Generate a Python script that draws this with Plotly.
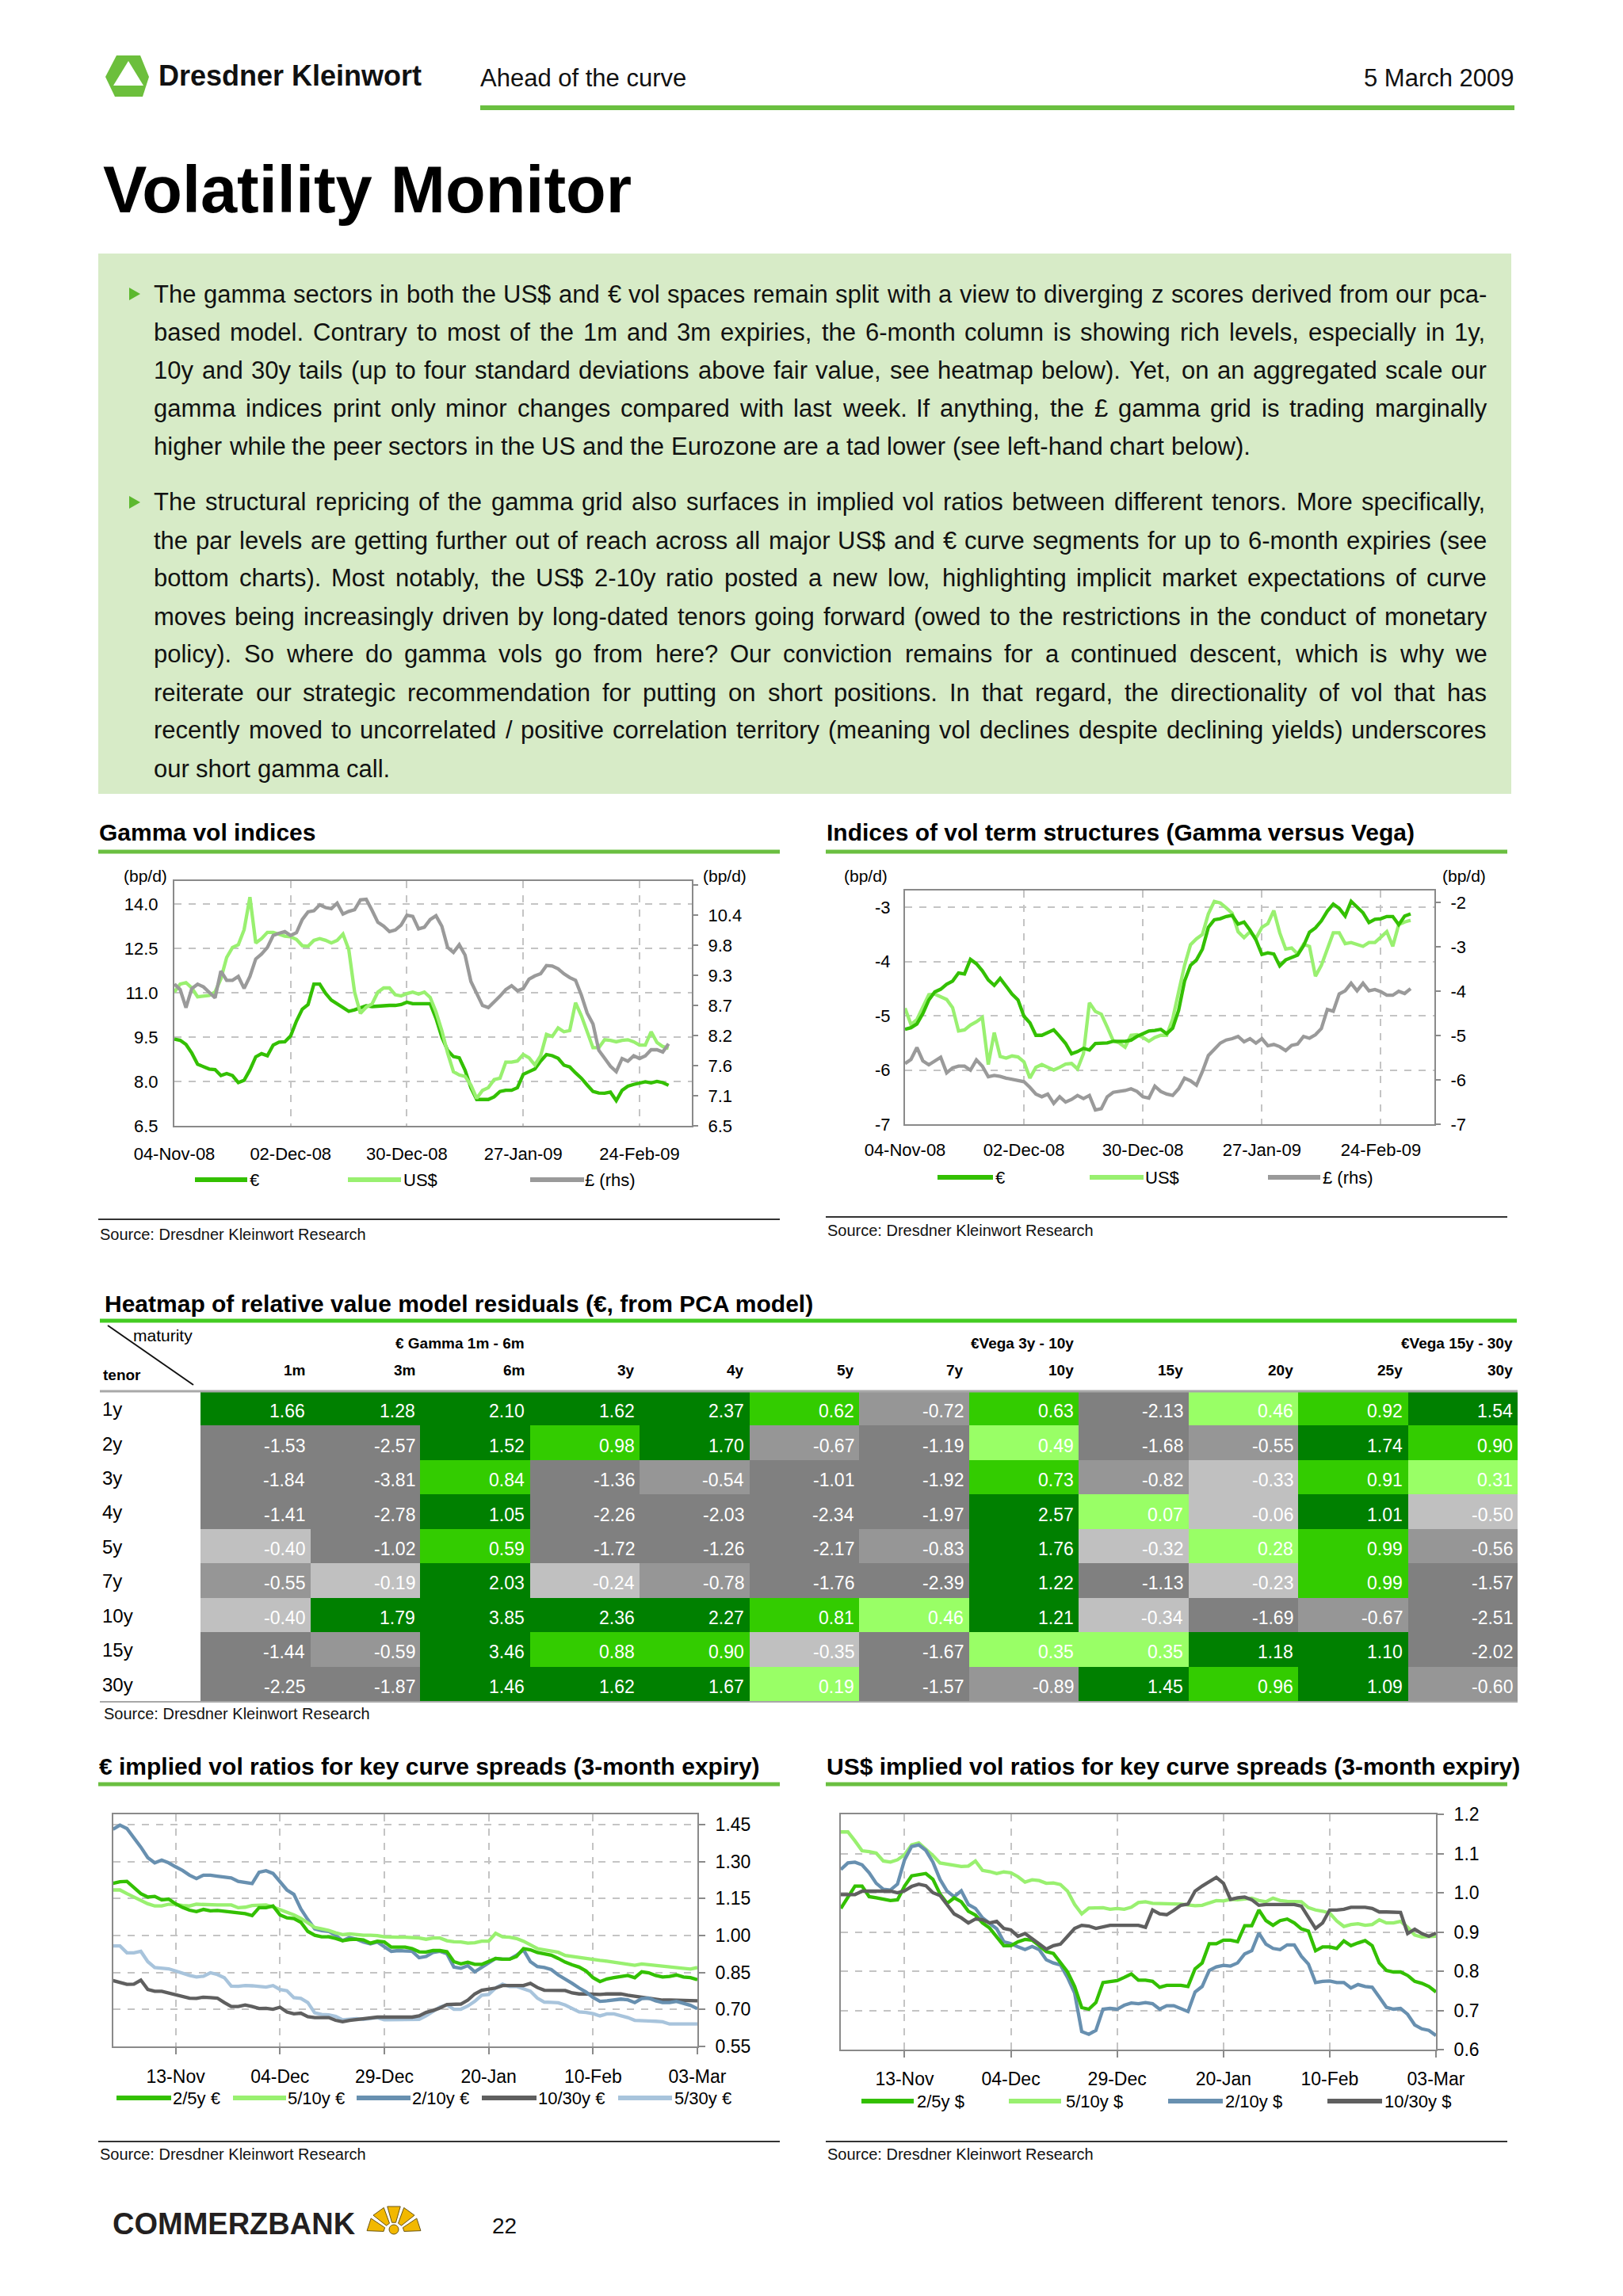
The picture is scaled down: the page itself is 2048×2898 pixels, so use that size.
import math
import pandas as pd
import plotly.graph_objects as go

W, H = 2048, 2898
FONT = "Liberation Sans, Arial, Helvetica, sans-serif"


def X(p):
    return p / W


def Y(p):
    return 1 - p / H


# ------------------------------------------------------------------ data
top_dates = pd.bdate_range("2008-11-04", "2009-03-03")

eur_gamma = [9.43, 9.39, 9.25, 8.96, 8.58, 8.51, 8.42, 8.40, 8.20, 8.27,
             8.20, 7.96, 8.04, 8.39, 8.83, 8.94, 8.87, 9.23, 9.33, 9.34,
             9.54, 10.04, 10.44, 10.60, 11.29, 11.29, 10.98, 10.75, 10.62, 10.48,
             10.37, 10.42, 10.48, 10.56, 10.53, 10.55, 10.57, 10.57, 10.57, 10.60,
             10.68, 10.63, 10.63, 10.63, 10.63, 10.13, 9.50, 9.05, 8.84, 8.80,
             8.38, 7.79, 7.39, 7.39, 7.39, 7.48, 7.66, 7.70, 7.70, 7.79,
             8.24, 8.33, 8.42, 8.69, 8.91, 8.87, 8.78, 8.55, 8.49, 8.29,
             8.11, 7.88, 7.66, 7.61, 7.60, 7.64, 7.35, 7.70, 7.84, 7.90,
             7.95, 7.99, 7.95, 8.00, 7.96, 7.87]
usd_gamma = [11.02, 11.29, 11.34, 11.16, 10.86, 10.89, 10.91, 11.02, 11.47, 12.19,
             12.53, 12.62, 13.13, 14.23, 12.68, 12.83, 13.04, 13.04, 12.98, 12.91,
             12.89, 12.80, 12.59, 12.57, 12.77, 12.83, 12.77, 12.68, 12.77, 12.98,
             12.46, 11.02, 10.30, 10.51, 10.62, 11.02, 11.16, 11.16, 10.93, 10.89,
             10.97, 11.02, 10.95, 11.02, 10.84, 10.35, 9.72, 8.96, 8.33, 8.22,
             8.17, 7.88, 7.43, 7.70, 7.79, 8.06, 8.11, 8.65, 8.65, 8.69,
             8.91, 8.80, 8.56, 8.87, 9.59, 9.52, 9.81, 9.68, 9.72, 10.66,
             10.22, 9.68, 9.14, 9.14, 9.41, 9.39, 9.34, 9.39, 9.41, 9.34,
             9.23, 9.23, 9.68, 9.32, 9.18, 9.12]
gbp_gamma = [9.09, 8.99, 8.66, 9.01, 9.09, 9.04, 8.94, 8.84, 9.33, 9.16,
             9.16, 9.23, 9.01, 9.23, 9.55, 9.64, 9.76, 9.98, 10.02, 10.05,
             9.98, 10.03, 10.27, 10.41, 10.43, 10.54, 10.49, 10.47, 10.57, 10.37,
             10.42, 10.45, 10.63, 10.64, 10.44, 10.22, 10.15, 10.05, 10.08, 10.17,
             10.35, 10.33, 10.10, 10.13, 10.27, 10.34, 10.15, 9.76, 9.67, 9.81,
             9.62, 9.14, 8.92, 8.70, 8.66, 8.76, 8.87, 8.99, 9.06, 8.97,
             9.01, 9.18, 9.24, 9.28, 9.43, 9.42, 9.37, 9.28, 9.21, 9.16,
             8.89, 8.56, 8.36, 7.88, 7.73, 7.59, 7.49, 7.73, 7.68, 7.78,
             7.73, 7.78, 7.89, 7.89, 7.85, 8.00]

eur_ts = [-5.25, -5.22, -5.15, -4.96, -4.71, -4.56, -4.51, -4.42, -4.36, -4.21,
          -4.23, -3.96, -4.04, -4.17, -4.34, -4.44, -4.31, -4.46, -4.60, -4.71,
          -5.01, -5.13, -5.36, -5.36, -5.31, -5.26, -5.38, -5.51, -5.70, -5.66,
          -5.60, -5.63, -5.51, -5.51, -5.50, -5.47, -5.47, -5.47, -5.45, -5.38,
          -5.33, -5.28, -5.27, -5.25, -5.33, -5.23, -4.90, -4.36, -4.07, -3.97,
          -3.77, -3.37, -3.23, -3.21, -3.17, -3.15, -3.31, -3.27, -3.42, -3.60,
          -3.87, -3.84, -3.86, -4.08, -3.97, -3.92, -3.88, -3.71, -3.46, -3.38,
          -3.25, -3.07, -2.94, -3.02, -3.16, -2.89, -2.99, -3.10, -3.28, -3.22,
          -3.21, -3.17, -3.17, -3.32, -3.16, -3.12]
usd_ts = [-4.86, -5.16, -5.07, -4.84, -4.61, -4.60, -4.65, -4.70, -4.85, -5.28,
          -5.26, -5.17, -5.11, -5.03, -5.90, -5.31, -5.75, -5.78, -5.74, -5.76,
          -5.85, -6.15, -5.95, -5.90, -5.95, -6.00, -5.95, -5.89, -5.88, -5.98,
          -5.70, -4.76, -4.92, -4.97, -5.21, -5.46, -5.50, -5.58, -5.36, -5.35,
          -5.40, -5.47, -5.40, -5.36, -5.36, -5.06, -4.56, -4.07, -3.69, -3.58,
          -3.50, -3.12, -2.89, -2.92, -3.01, -3.11, -3.45, -3.56, -3.45, -3.57,
          -3.37, -3.30, -3.06, -3.47, -3.77, -3.75, -3.86, -3.68, -3.72, -4.27,
          -4.07, -3.77, -3.47, -3.47, -3.67, -3.65, -3.68, -3.72, -3.65, -3.65,
          -3.55, -3.45, -3.72, -3.32, -3.27, -3.24]
gbp_ts = [-5.63, -5.54, -5.27, -5.57, -5.66, -5.57, -5.49, -5.84, -5.73, -5.69,
          -5.69, -5.78, -5.55, -5.69, -5.93, -5.90, -5.92, -5.96, -5.99, -6.01,
          -6.04, -6.17, -6.32, -6.38, -6.32, -6.53, -6.38, -6.50, -6.44, -6.35,
          -6.42, -6.35, -6.68, -6.65, -6.38, -6.28, -6.26, -6.24, -6.20, -6.26,
          -6.38, -6.41, -6.14, -6.26, -6.32, -6.35, -6.20, -5.96, -6.02, -6.12,
          -5.81, -5.45, -5.31, -5.17, -5.10, -5.07, -5.02, -5.14, -5.07, -5.17,
          -5.07, -5.23, -5.20, -5.25, -5.34, -5.22, -5.19, -5.02, -5.06, -4.98,
          -4.84, -4.41, -4.45, -4.06, -3.99, -3.82, -3.99, -3.82, -3.99, -3.96,
          -4.01, -4.09, -4.09, -4.00, -4.05, -3.94]

holidays = ["2008-12-25", "2008-12-26", "2009-01-01"]
bot_dates = [d for d in pd.bdate_range("2008-10-31", "2009-03-03")
             if d.strftime("%Y-%m-%d") not in holidays]

eur_2_5 = [1.212, 1.218, 1.220, 1.193, 1.170, 1.156, 1.159, 1.145, 1.148, 1.129,
           1.114, 1.103, 1.097, 1.106, 1.100, 1.102, 1.097, 1.095, 1.092, 1.089,
           1.081, 1.113, 1.113, 1.120, 1.084, 1.072, 1.069, 1.054, 1.017, 1.001,
           0.995, 0.995, 0.988, 0.979, 0.984, 0.985, 0.982, 0.969, 0.977, 0.974,
           0.953, 0.953, 0.953, 0.947, 0.934, 0.933, 0.939, 0.939, 0.934, 0.894,
           0.885, 0.892, 0.883, 0.883, 0.894, 0.907, 0.904, 0.904, 0.915, 0.947,
           0.942, 0.931, 0.926, 0.920, 0.907, 0.892, 0.881, 0.872, 0.856, 0.829,
           0.813, 0.824, 0.829, 0.832, 0.838, 0.829, 0.853, 0.849, 0.838, 0.832,
           0.834, 0.840, 0.832, 0.829, 0.821]
eur_5_10 = [1.185, 1.185, 1.170, 1.156, 1.144, 1.129, 1.120, 1.120, 1.127, 1.127,
            1.122, 1.120, 1.127, 1.125, 1.124, 1.124, 1.124, 1.124, 1.113, 1.115,
            1.122, 1.124, 1.124, 1.116, 1.106, 1.095, 1.084, 1.070, 1.051, 1.033,
            1.027, 1.021, 1.011, 1.004, 1.007, 1.003, 1.001, 1.001, 1.000, 0.995,
            0.993, 0.993, 0.993, 0.993, 0.990, 0.985, 0.990, 0.990, 0.979, 0.975,
            0.974, 0.969, 0.971, 0.977, 0.977, 1.009, 0.995, 0.993, 0.988, 0.977,
            0.961, 0.947, 0.942, 0.937, 0.932, 0.919, 0.915, 0.910, 0.904, 0.901,
            0.899, 0.896, 0.892, 0.886, 0.882, 0.879, 0.885, 0.882, 0.879, 0.877,
            0.874, 0.872, 0.867, 0.864, 0.870]
eur_2_10 = [1.431, 1.448, 1.434, 1.397, 1.359, 1.316, 1.295, 1.306, 1.295, 1.279,
            1.264, 1.245, 1.231, 1.245, 1.245, 1.241, 1.236, 1.234, 1.220, 1.217,
            1.211, 1.257, 1.263, 1.252, 1.220, 1.185, 1.167, 1.108, 1.065, 1.027,
            1.020, 1.017, 1.001, 0.979, 0.992, 0.985, 0.974, 0.966, 0.974, 0.953,
            0.936, 0.939, 0.939, 0.936, 0.910, 0.915, 0.931, 0.936, 0.926, 0.872,
            0.867, 0.878, 0.853, 0.870, 0.888, 0.907, 0.904, 0.904, 0.920, 0.942,
            0.894, 0.874, 0.870, 0.862, 0.840, 0.824, 0.806, 0.787, 0.771, 0.749,
            0.733, 0.735, 0.739, 0.742, 0.739, 0.728, 0.744, 0.746, 0.735, 0.728,
            0.728, 0.733, 0.725, 0.717, 0.703]
eur_10_30 = [0.817, 0.810, 0.802, 0.803, 0.819, 0.781, 0.774, 0.774, 0.767, 0.760,
             0.750, 0.746, 0.745, 0.750, 0.748, 0.746, 0.728, 0.712, 0.712, 0.718,
             0.712, 0.704, 0.705, 0.701, 0.709, 0.690, 0.682, 0.685, 0.671, 0.667,
             0.667, 0.667, 0.656, 0.650, 0.656, 0.660, 0.662, 0.668, 0.669, 0.669,
             0.669, 0.669, 0.669, 0.669, 0.674, 0.688, 0.696, 0.706, 0.720, 0.722,
             0.722, 0.738, 0.763, 0.778, 0.783, 0.787, 0.797, 0.797, 0.797, 0.797,
             0.806, 0.789, 0.778, 0.778, 0.778, 0.777, 0.767, 0.763, 0.763, 0.761,
             0.761, 0.763, 0.763, 0.763, 0.758, 0.754, 0.750, 0.746, 0.740, 0.738,
             0.738, 0.738, 0.738, 0.737, 0.735]
eur_5_30 = [0.958, 0.958, 0.930, 0.930, 0.936, 0.894, 0.870, 0.869, 0.865, 0.856,
            0.846, 0.838, 0.832, 0.835, 0.849, 0.842, 0.829, 0.795, 0.794, 0.797,
            0.796, 0.794, 0.791, 0.797, 0.781, 0.776, 0.748, 0.745, 0.728, 0.686,
            0.680, 0.678, 0.672, 0.658, 0.662, 0.663, 0.660, 0.665, 0.667, 0.658,
            0.658, 0.658, 0.658, 0.658, 0.660, 0.674, 0.690, 0.710, 0.718, 0.701,
            0.701, 0.714, 0.733, 0.758, 0.761, 0.787, 0.803, 0.793, 0.794, 0.785,
            0.774, 0.746, 0.730, 0.729, 0.727, 0.718, 0.703, 0.690, 0.688, 0.683,
            0.674, 0.682, 0.682, 0.676, 0.667, 0.656, 0.656, 0.653, 0.652, 0.650,
            0.641, 0.641, 0.641, 0.641, 0.641]

usd_2_5 = [0.960, 0.987, 1.017, 1.017, 0.990, 0.987, 0.983, 0.980, 0.982, 1.017,
           1.043, 1.047, 1.049, 1.034, 0.997, 0.973, 0.987, 0.977, 0.953, 0.943,
           0.923, 0.910, 0.889, 0.865, 0.865, 0.875, 0.881, 0.879, 0.865, 0.850,
           0.845, 0.821, 0.798, 0.761, 0.707, 0.703, 0.720, 0.771, 0.774, 0.776,
           0.784, 0.793, 0.777, 0.777, 0.774, 0.759, 0.764, 0.764, 0.764, 0.761,
           0.806, 0.821, 0.870, 0.870, 0.879, 0.879, 0.875, 0.916, 0.916, 0.956,
           0.929, 0.917, 0.929, 0.933, 0.923, 0.908, 0.902, 0.852, 0.862, 0.862,
           0.858, 0.877, 0.865, 0.872, 0.878, 0.865, 0.821, 0.802, 0.798, 0.798,
           0.789, 0.774, 0.769, 0.761, 0.747]
usd_5_10 = [1.155, 1.155, 1.132, 1.107, 1.105, 1.101, 1.081, 1.078, 1.084, 1.097,
            1.122, 1.127, 1.111, 1.095, 1.076, 1.074, 1.070, 1.067, 1.068, 1.081,
            1.057, 1.054, 1.049, 1.053, 1.051, 1.041, 1.027, 1.033, 1.031, 1.024,
            1.025, 1.021, 1.004, 0.970, 0.946, 0.961, 0.962, 0.962, 0.958, 0.960,
            0.958, 0.963, 0.975, 0.977, 0.973, 0.973, 0.972, 0.971, 0.971, 0.969,
            0.967, 0.968, 0.975, 0.980, 0.979, 0.983, 0.982, 0.983, 0.986, 0.980,
            0.977, 0.986, 0.980, 0.978, 0.978, 0.977, 0.962, 0.956, 0.953, 0.948,
            0.928, 0.914, 0.919, 0.921, 0.917, 0.919, 0.931, 0.923, 0.923, 0.927,
            0.912, 0.892, 0.887, 0.887, 0.889]
usd_2_10 = [1.059, 1.076, 1.078, 1.071, 1.051, 1.024, 1.009, 1.007, 1.022, 1.084,
            1.118, 1.122, 1.108, 1.078, 1.034, 1.004, 0.990, 1.005, 0.970, 0.960,
            0.936, 0.921, 0.908, 0.875, 0.870, 0.862, 0.855, 0.863, 0.855, 0.829,
            0.821, 0.816, 0.784, 0.744, 0.646, 0.639, 0.649, 0.703, 0.705, 0.703,
            0.713, 0.719, 0.717, 0.720, 0.717, 0.703, 0.712, 0.712, 0.705, 0.697,
            0.747, 0.761, 0.802, 0.811, 0.815, 0.813, 0.821, 0.844, 0.852, 0.897,
            0.869, 0.858, 0.855, 0.867, 0.867, 0.838, 0.818, 0.771, 0.774, 0.775,
            0.771, 0.771, 0.757, 0.766, 0.761, 0.759, 0.734, 0.708, 0.703, 0.705,
            0.690, 0.663, 0.653, 0.649, 0.636]
usd_10_30 = [0.995, 0.995, 0.995, 1.004, 1.004, 1.002, 1.004, 1.004, 1.000, 1.005,
             1.016, 1.022, 1.018, 1.000, 0.993, 0.971, 0.946, 0.936, 0.923, 0.933,
             0.931, 0.923, 0.927, 0.909, 0.905, 0.889, 0.896, 0.883, 0.870, 0.856,
             0.865, 0.869, 0.889, 0.909, 0.917, 0.915, 0.909, 0.912, 0.917, 0.917,
             0.917, 0.917, 0.917, 0.912, 0.956, 0.946, 0.944, 0.955, 0.968, 0.971,
             1.004, 1.017, 1.029, 1.039, 1.024, 0.983, 0.987, 0.989, 0.982, 0.968,
             0.970, 0.970, 0.970, 0.970, 0.970, 0.966, 0.936, 0.909, 0.923, 0.956,
             0.956, 0.958, 0.963, 0.963, 0.963, 0.960, 0.951, 0.951, 0.951, 0.950,
             0.896, 0.907, 0.896, 0.889, 0.897]

tenors = ["1y", "2y", "3y", "4y", "5y", "7y", "10y", "15y", "30y"]
maturities = ["1m", "3m", "6m", "3y", "4y", "5y", "7y", "10y", "15y", "20y", "25y", "30y"]
group_labels = ["€ Gamma 1m - 6m", "€Vega 3y - 10y", "€Vega 15y - 30y"]
res_1y = [1.66, 1.28, 2.10, 1.62, 2.37, 0.62, -0.72, 0.63, -2.13, 0.46, 0.92, 1.54]
res_2y = [-1.53, -2.57, 1.52, 0.98, 1.70, -0.67, -1.19, 0.49, -1.68, -0.55, 1.74, 0.90]
res_3y = [-1.84, -3.81, 0.84, -1.36, -0.54, -1.01, -1.92, 0.73, -0.82, -0.33, 0.91, 0.31]
res_4y = [-1.41, -2.78, 1.05, -2.26, -2.03, -2.34, -1.97, 2.57, 0.07, -0.06, 1.01, -0.50]
res_5y = [-0.40, -1.02, 0.59, -1.72, -1.26, -2.17, -0.83, 1.76, -0.32, 0.28, 0.99, -0.56]
res_7y = [-0.55, -0.19, 2.03, -0.24, -0.78, -1.76, -2.39, 1.22, -1.13, -0.23, 0.99, -1.57]
res_10y = [-0.40, 1.79, 3.85, 2.36, 2.27, 0.81, 0.46, 1.21, -0.34, -1.69, -0.67, -2.51]
res_15y = [-1.44, -0.59, 3.46, 0.88, 0.90, -0.35, -1.67, 0.35, 0.35, 1.18, 1.10, -2.02]
res_30y = [-2.25, -1.87, 1.46, 1.62, 1.67, 0.19, -1.57, -0.89, 1.45, 0.96, 1.09, -0.60]
residuals = [res_1y, res_2y, res_3y, res_4y, res_5y, res_7y, res_10y, res_15y, res_30y]

para1 = [
    "The gamma sectors in both the US$ and € vol spaces remain split with a view to diverging z scores derived from our pca-",
    "based model. Contrary to most of the 1m and 3m expiries, the 6-month column is showing rich levels, especially in 1y,",
    "10y and 30y tails (up to four standard deviations above fair value, see heatmap below). Yet, on an aggregated scale our",
    "gamma indices print only minor changes compared with last week. If anything, the £ gamma grid is trading marginally",
    "higher while the peer sectors in the US and the Eurozone are a tad lower (see left-hand chart below).",
]
para2 = [
    "The structural repricing of the gamma grid also surfaces in implied vol ratios between different tenors. More specifically,",
    "the par levels are getting further out of reach across all major US$ and € curve segments for up to 6-month expiries (see",
    "bottom charts). Most notably, the US$ 2-10y ratio posted a new low, highlighting implicit market expectations of curve",
    "moves being increasingly driven by long-dated tenors going forward (owed to the restrictions in the conduct of monetary",
    "policy). So where do gamma vols go from here? Our conviction remains for a continued descent, which is why we",
    "reiterate our strategic recommendation for putting on short positions. In that regard, the directionality of vol that has",
    "recently moved to uncorrelated / positive correlation territory (meaning vol declines despite declining yields) underscores",
    "our short gamma call.",
]

# ------------------------------------------------------------------ styles
GREEN_BAR = "#6abf40"
C_EUR = "#33c000"
C_USD = "#99f070"
C_GBP = "#9a9a9a"
C_BLUE = "#6890b0"
C_DGRAY = "#5f5f5f"
C_LBLUE = "#a8c4dc"
GRID = "#c4c4c4"
AXL = "#8a8a8a"

ann = []
shapes = []


def text(x, y, s, size=22, color="#000", bold=False, xanchor="left", yanchor="middle",
         xref="paper", yref="paper"):
    if bold:
        s = "<b>" + s + "</b>"
    ann.append(dict(x=X(x) if xref == "paper" else x, y=Y(y) if yref == "paper" else y,
                    xref=xref, yref=yref, text=s, showarrow=False,
                    xanchor=xanchor, yanchor=yanchor,
                    font=dict(size=size, color=color, family=FONT)))


def line(x0, y0, x1, y1, color, width):
    shapes.append(dict(type="line", xref="paper", yref="paper", x0=X(x0), y0=Y(y0),
                       x1=X(x1), y1=Y(y1), line=dict(color=color, width=width)))


def rect(x0, y0, x1, y1, fill):
    shapes.append(dict(type="rect", xref="paper", yref="paper", x0=X(x0), y0=Y(y0),
                       x1=X(x1), y1=Y(y1), fillcolor=fill, line=dict(width=0), layer="below"))


def poly(pts, fill, lc=None, lw=0):
    d = "M " + " L ".join(f"{X(a):.5f},{Y(b):.5f}" for a, b in pts) + " Z"
    shapes.append(dict(type="path", xref="paper", yref="paper", path=d, fillcolor=fill,
                       line=dict(color=lc or fill, width=lw)))


# Arial / Liberation Sans advance widths (1/1000 em)
CW = {' ': 278, '!': 278, '"': 355, '$': 556, '%': 889, '&': 667, "'": 191, '(': 333, ')': 333,
      ',': 278, '-': 333, '.': 278, '/': 278, ':': 278, ';': 278, '?': 556,
      'A': 667, 'B': 667, 'C': 722, 'D': 722, 'E': 667, 'F': 611, 'G': 778, 'H': 722, 'I': 278,
      'J': 500, 'K': 667, 'L': 556, 'M': 833, 'N': 722, 'O': 778, 'P': 667, 'Q': 778, 'R': 722,
      'S': 667, 'T': 611, 'U': 722, 'V': 667, 'W': 944, 'X': 667, 'Y': 667, 'Z': 611,
      'a': 556, 'b': 556, 'c': 500, 'd': 556, 'e': 556, 'f': 278, 'g': 556, 'h': 556, 'i': 222,
      'j': 222, 'k': 500, 'l': 222, 'm': 833, 'n': 556, 'o': 556, 'p': 556, 'q': 556, 'r': 333,
      's': 500, 't': 278, 'u': 556, 'v': 500, 'w': 722, 'x': 500, 'y': 500, 'z': 500,
      '€': 556, '£': 556}


def tw(s, fs):
    return sum(CW.get(c, 556) for c in s) * fs / 1000.0


def paragraph(lines, y0, lh=48, fs=31, x0=194, x1=1876):
    for i, ln in enumerate(lines):
        y = y0 + i * lh
        words = ln.split(" ")
        ws = [tw(w, fs) for w in words]
        if i == len(lines) - 1 or len(words) < 2:
            gap = tw(" ", fs)
        else:
            gap = max((x1 - x0 - sum(ws)) / (len(words) - 1), 0.15 * fs)
        x = x0
        for w, wd in zip(words, ws):
            text(x - 2, y, w, size=fs, color="#111")
            x += wd + gap


# ------------------------------------------------------------------ header
poly([(147, 70), (177, 70), (188, 97), (180, 122), (145, 122), (133, 97)], "#6cbf3c")
poly([(162, 77), (181, 108), (143, 108)], "#ffffff")
text(198, 96, "Dresdner Kleinwort", size=36, bold=True, color="#111")
text(604, 98, "Ahead of the curve", size=31, color="#111")
text(1913, 98, "5 March 2009", size=31, color="#111", xanchor="right")
rect(606, 133, 1911, 139, GREEN_BAR)
text(128, 240, "Volatility Monitor", size=83, bold=True, color="#000")

# text box
rect(124, 320, 1907, 1002, "#d7ebc7")
poly([(163, 363), (163, 379), (177, 371)], "#5cb82e")
poly([(163, 626), (163, 642), (177, 634)], "#5cb82e")
paragraph(para1, 371)
paragraph(para2, 634)


# ------------------------------------------------------------------ section furniture
def section(x0, x1, ty, title, uy, ry, sy):
    text(x0 - 1, ty, title, size=30, bold=True)
    line(x0, uy, x1, uy, GREEN_BAR, 5)
    if ry is not None:
        line(x0, ry, x1, ry, "#333", 2)
    text(x0, sy, "Source: Dresdner Kleinwort Research", size=20, color="#111")


section(124, 984, 1050, "Gamma vol indices", 1075, 1539, 1558)
section(1042, 1902, 1050, "Indices of vol term structures (Gamma versus Vega)", 1075, 1536, 1553)
section(124, 984, 2229, "€ implied vol ratios for key curve spreads (3-month expiry)", 2252, 2703, 2719)
section(1042, 1902, 2229, "US$ implied vol ratios for key curve spreads (3-month expiry)", 2252, 2703, 2719)


def legend(items, y):
    for x0, x1, lx, color, label in items:
        line(x0, y, x1, y, color, 6)
        text(lx, y, label, size=22)


legend([(246, 312, 313, C_EUR, "€"), (439, 506, 507, C_USD, "US$"),
        (669, 737, 736, C_GBP, "£ (rhs)")], 1489)
legend([(1183, 1253, 1254, C_EUR, "€"), (1375, 1443, 1443, C_USD, "US$"),
        (1600, 1666, 1667, C_GBP, "£ (rhs)")], 1486)
legend([(147, 216, 216, C_EUR, "2/5y €"), (294, 361, 361, C_USD, "5/10y €"),
        (450, 518, 518, C_BLUE, "2/10y €"), (608, 677, 677, C_DGRAY, "10/30y €"),
        (780, 848, 849, C_LBLUE, "5/30y €")], 2648)
legend([(1087, 1153, 1155, C_EUR, "2/5y $"), (1273, 1339, 1343, C_USD, "5/10y $"),
        (1474, 1543, 1544, C_BLUE, "2/10y $"), (1675, 1744, 1745, C_DGRAY, "10/30y $")], 2652)

text(183, 1106, "(bp/d)", size=21, xanchor="center")
text(914, 1106, "(bp/d)", size=21, xanchor="center")
text(1092, 1106, "(bp/d)", size=21, xanchor="center")
text(1847, 1106, "(bp/d)", size=21, xanchor="center")

# ------------------------------------------------------------------ heatmap furniture
text(130, 1645, "Heatmap of relative value model residuals (€, from PCA model)", size=30, bold=True)
line(126, 1667, 1914, 1667, "#44cc22", 5)
line(136, 1673, 244, 1748, "#111", 2)
text(166, 1686, "maturity", size=21)
text(128, 1735, "tenor", size=19, bold=True)
line(126, 1756, 1915, 1756, "#a8a8a8", 3)
line(126, 2148, 1915, 2148, "#a8a8a8", 2)
text(129, 2163, "Source: Dresdner Kleinwort Research", size=20, color="#111")

# footer
text(140, 2807, "COMMERZBANK", size=38, bold=True, color="#231f20")
cx, cy = 497, 2818
for a in [162, 126, 90, 54, 18]:
    pts = []
    for r, da in [(13, -11), (34, -14), (34, 14), (13, 11)]:
        ang = math.radians(a + da)
        pts.append((cx + r * math.cos(ang), cy - r * math.sin(ang)))
    poly(pts, "#f2b800", "#6a5514", 1)
shapes.append(dict(type="circle", xref="paper", yref="paper", x0=X(cx - 6), x1=X(cx + 6),
                   y0=Y(cy + 2), y1=Y(cy - 10), fillcolor="#f2b800",
                   line=dict(color="#6a5514", width=1)))
text(636, 2809, "22", size=28, xanchor="center", color="#111")

# ------------------------------------------------------------------ traces
fig = go.Figure()


def add_line(x, y, color, xa, ya, width=4.3):
    fig.add_trace(go.Scatter(x=list(x)[:len(y)], y=y, mode="lines", xaxis=xa, yaxis=ya,
                             line=dict(color=color, width=width), hoverinfo="skip",
                             showlegend=False))


add_line(top_dates, eur_gamma, C_EUR, "x", "y")
add_line(top_dates, usd_gamma, C_USD, "x", "y")
add_line(top_dates, gbp_gamma, C_GBP, "x", "y2")

add_line(top_dates, gbp_ts, C_GBP, "x2", "y4")
add_line(top_dates, usd_ts, C_USD, "x2", "y3")
add_line(top_dates, eur_ts, C_EUR, "x2", "y3")

add_line(bot_dates, eur_5_30, C_LBLUE, "x4", "y6")
add_line(bot_dates, eur_10_30, C_DGRAY, "x4", "y6")
add_line(bot_dates, eur_2_10, C_BLUE, "x4", "y6")
add_line(bot_dates, eur_5_10, C_USD, "x4", "y6")
add_line(bot_dates, eur_2_5, C_EUR, "x4", "y6")

add_line(bot_dates, usd_5_10, C_USD, "x5", "y7")
add_line(bot_dates, usd_2_10, C_BLUE, "x5", "y7")
add_line(bot_dates, usd_2_5, C_EUR, "x5", "y7")
add_line(bot_dates, usd_10_30, C_DGRAY, "x5", "y7")


# heatmap
def bucket(v):
    if v >= 1.0:
        return 5
    if v >= 0.5:
        return 4
    if v >= 0:
        return 3
    if v >= -0.5:
        return 2
    if v >= -1.0:
        return 1
    return 0


hm_colors = ["#808080", "#969696", "#c0c0c0", "#99ff66", "#33cc00", "#008000"]
cscale = []
for i, c in enumerate(hm_colors):
    cscale += [[i / 6, c], [(i + 1) / 6, c]]
zcat = [[bucket(v) for v in row] for row in residuals]
fig.add_trace(go.Heatmap(z=zcat, x=list(range(len(maturities))), y=list(range(len(tenors))),
                         colorscale=cscale, zmin=-0.5, zmax=5.5, showscale=False,
                         xaxis="x3", yaxis="y5", hoverinfo="skip", xgap=0, ygap=0))
for i, row in enumerate(residuals):
    for j, v in enumerate(row):
        text(j + 0.47, i + 0.08, f"{v:.2f}", size=23, color="#ffffff", xanchor="right",
             xref="x3", yref="y5")
    text(127, i + 0.02, tenors[i], size=24, yref="y5")
for j, m in enumerate(maturities):
    ann.append(dict(x=j + 0.47, y=Y(1730), xref="x3", yref="paper", text="<b>" + m + "</b>",
                    showarrow=False, xanchor="right", yanchor="middle",
                    font=dict(size=19, color="#000", family=FONT)))
for j, g in zip([2, 7, 11], group_labels):
    ann.append(dict(x=j + 0.47, y=Y(1695), xref="x3", yref="paper", text="<b>" + g + "</b>",
                    showarrow=False, xanchor="right", yanchor="middle",
                    font=dict(size=19, color="#000", family=FONT)))

# ------------------------------------------------------------------ axes
TF = dict(size=22, color="#000", family=FONT)
wk = dict(bounds=["sat", "mon"])

common_x = dict(type="date", showline=True, linecolor=AXL, linewidth=2, mirror=True,
                showgrid=True, gridcolor=GRID, griddash="dash", gridwidth=1.5,
                zeroline=False, tickfont=TF, automargin=False)

fig.update_layout(
    template="none",
    width=W, height=H, autosize=False, margin=dict(l=0, r=0, t=0, b=0, pad=0, autoexpand=False),
    paper_bgcolor="white", plot_bgcolor="white", showlegend=False,
    font=dict(family=FONT),
    xaxis=dict(common_x, domain=[X(220), X(873)], anchor="y",
               range=["2008-11-04", "2009-03-09"], rangebreaks=[wk],
               tickvals=["2008-11-04", "2008-12-02", "2008-12-30", "2009-01-27", "2009-02-24"],
               tickformat="%d-%b-%y", ticks="", ticklabelstandoff=15),
    yaxis=dict(domain=[Y(1421), Y(1112)], anchor="x", range=[6.5, 14.775],
               tickvals=[6.5, 8.0, 9.5, 11.0, 12.5, 14.0], tickformat=".1f",
               showline=True, linecolor=AXL, linewidth=2, showgrid=True, gridcolor=GRID,
               griddash="dash", gridwidth=1.5, zeroline=False, tickfont=TF,
               ticks="", ticklabelstandoff=14, automargin=False),
    yaxis2=dict(overlaying="y", side="right", anchor="x", range=[6.5, 10.975],
                tickvals=[6.5, 7.05, 7.6, 8.15, 8.7, 9.25, 9.8, 10.35, 10.9],
                ticktext=["6.5", "7.1", "7.6", "8.2", "8.7", "9.3", "9.8", "10.4", ""],
                showline=True, linecolor=AXL, linewidth=2, showgrid=False, zeroline=False,
                ticks="outside", ticklen=6, tickcolor=AXL, tickwidth=2, tickfont=TF,
                ticklabelstandoff=8, automargin=False),
    xaxis2=dict(common_x, domain=[X(1142), X(1810)], anchor="y3",
                range=["2008-11-04", "2009-03-09"], rangebreaks=[wk],
                tickvals=["2008-11-04", "2008-12-02", "2008-12-30", "2009-01-27", "2009-02-24"],
                tickformat="%d-%b-%y", ticks="", ticklabelstandoff=12),
    yaxis3=dict(domain=[Y(1419), Y(1124)], anchor="x2", range=[-7, -2.69],
                tickvals=[-7, -6, -5, -4, -3], ticktext=["-7", "-6", "-5", "-4", "-3"],
                showline=True, linecolor=AXL, linewidth=2, showgrid=True, gridcolor=GRID,
                griddash="dash", gridwidth=1.5, zeroline=False, tickfont=TF,
                ticks="", ticklabelstandoff=12, automargin=False),
    yaxis4=dict(overlaying="y3", side="right", anchor="x2", range=[-7, -1.727],
                tickvals=[-7, -6, -5, -4, -3, -2], ticktext=["-7", "-6", "-5", "-4", "-3", "-2"],
                showline=True, linecolor=AXL, linewidth=2, showgrid=False, zeroline=False,
                ticks="outside", ticklen=6, tickcolor=AXL, tickwidth=2, tickfont=TF,
                ticklabelstandoff=8, automargin=False),
    xaxis3=dict(domain=[X(253), X(1915)], anchor="y5", range=[-0.5, 11.5], visible=False,
                automargin=False),
    yaxis5=dict(domain=[Y(2147), Y(1756)], anchor="x3", range=[8.5, -0.5], visible=False,
                automargin=False),
    xaxis4=dict(common_x, domain=[X(142.6), X(880)], anchor="y6",
                range=["2008-10-31", "2009-03-03"], rangebreaks=[wk, dict(values=holidays)],
                tickvals=["2008-11-13", "2008-12-04", "2008-12-29", "2009-01-20", "2009-02-10",
                          "2009-03-03"],
                tickformat="%d-%b", ticks="outside", ticklen=8, tickcolor=AXL, tickwidth=2,
                ticklabelstandoff=8, tickfont=dict(size=23, color="#000", family=FONT)),
    yaxis6=dict(domain=[Y(2583), Y(2290)], anchor="x4", side="right", range=[0.55, 1.492],
                tickvals=[0.55, 0.70, 0.85, 1.00, 1.15, 1.30, 1.45], tickformat=".2f",
                showline=True, linecolor=AXL, linewidth=2, mirror=True, showgrid=True,
                gridcolor=GRID, griddash="dash", gridwidth=1.5, zeroline=False,
                ticks="outside", ticklen=8, tickcolor=AXL, tickwidth=2,
                tickfont=dict(size=23, color="#000", family=FONT), ticklabelstandoff=8,
                automargin=False),
    xaxis5=dict(common_x, domain=[X(1061), X(1812)], anchor="y7",
                range=["2008-10-31", "2009-03-03"], rangebreaks=[wk, dict(values=holidays)],
                tickvals=["2008-11-13", "2008-12-04", "2008-12-29", "2009-01-20", "2009-02-10",
                          "2009-03-03"],
                tickformat="%d-%b", ticks="outside", ticklen=8, tickcolor=AXL, tickwidth=2,
                ticklabelstandoff=7, tickfont=dict(size=23, color="#000", family=FONT)),
    yaxis7=dict(domain=[Y(2587), Y(2290)], anchor="x5", side="right", range=[0.6, 1.2],
                tickvals=[0.6, 0.7, 0.8, 0.9, 1.0, 1.1, 1.2], tickformat=".1f",
                showline=True, linecolor=AXL, linewidth=2, mirror=True, showgrid=True,
                gridcolor=GRID, griddash="dash", gridwidth=1.5, zeroline=False,
                ticks="outside", ticklen=8, tickcolor=AXL, tickwidth=2,
                tickfont=dict(size=23, color="#000", family=FONT), ticklabelstandoff=8,
                automargin=False),
    annotations=ann,
    shapes=shapes,
)

fig.write_html("out.html", config={"displayModeBar": False, "responsive": False},
               post_script="document.body.style.margin='0';")
